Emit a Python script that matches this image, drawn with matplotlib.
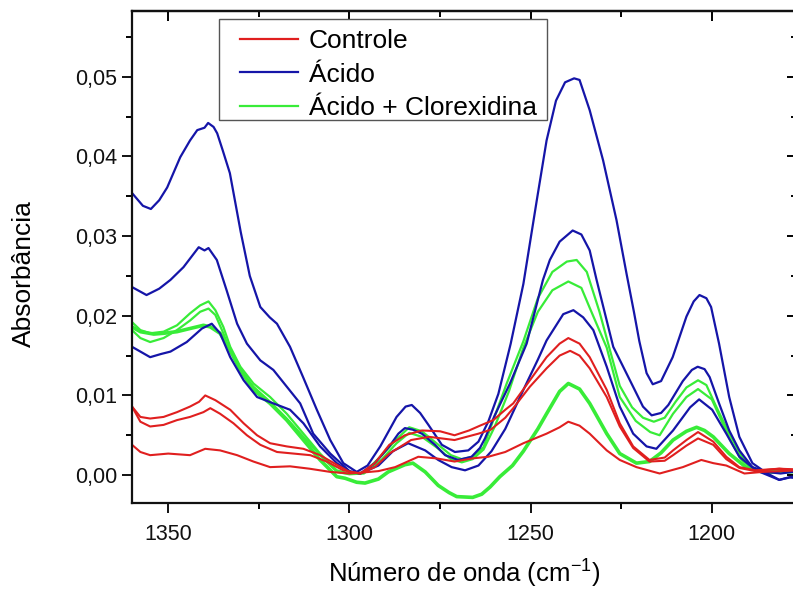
import numpy as np
import matplotlib
matplotlib.use("Agg")
import matplotlib.pyplot as plt
from matplotlib.ticker import MultipleLocator, FuncFormatter
from matplotlib.patches import Rectangle

plt.rcParams['font.family'] = ['Liberation Sans', 'DejaVu Sans']
plt.rcParams['mathtext.fontset'] = 'custom'
plt.rcParams['mathtext.rm'] = 'Liberation Sans'
plt.rcParams['mathtext.default'] = 'rm'

#Controle spectra (wavenumber cm-1, absorbance)
wn_controle_1 = [1360, 1357.7, 1355, 1351.3, 1347.6, 1344, 1341.5, 1339.8, 1337, 1332.9, 1329.2, 1325.5,
                 1321.9, 1317.3, 1312.7, 1308.1, 1303.5, 1300, 1297, 1293, 1289, 1284.7, 1280, 1275, 1271,
                 1267, 1264, 1260.3, 1257, 1254.8, 1250.2, 1245.6, 1242, 1239.6, 1236.5, 1233.7, 1229,
                 1225.4, 1221.7, 1217.2, 1213, 1210.7, 1207, 1203.8, 1199.6, 1196, 1192.4, 1188, 1181.4, 1176]
abs_controle_1 = [0.0086, 0.0073, 0.0071, 0.0073, 0.0079, 0.0086, 0.0092, 0.0100, 0.0094, 0.0082, 0.0065, 0.0050,
                  0.0040, 0.0036, 0.0033, 0.0025, 0.0013, 0.0004, 0.0002, 0.0015, 0.0038, 0.0050, 0.0056, 0.0055, 0.0050,
                  0.0056, 0.0062, 0.0069, 0.0082, 0.0090, 0.0119, 0.0148, 0.0165, 0.0172, 0.0165, 0.0148, 0.0107,
                  0.0065, 0.0036, 0.0019, 0.0022, 0.0031, 0.0044, 0.0054, 0.0042, 0.0023, 0.0010, 0.0006, 0.0008, 0.0006]

wn_controle_2 = [1360, 1357.7, 1355, 1351.3, 1347.6, 1344, 1340.3, 1338.4, 1335.7, 1332, 1328.3, 1324.6, 1320,
                 1315.4, 1310.8, 1306.3, 1301.7, 1297, 1293, 1289, 1283, 1278, 1271, 1264.4, 1261, 1257, 1254.8,
                 1250.2, 1245.6, 1242, 1239.1, 1236.5, 1233.7, 1229, 1225.4, 1221.7, 1217.2, 1213, 1210.7, 1207,
                 1203.8, 1199.6, 1196, 1192.4, 1188, 1181.4, 1176]
abs_controle_2 = [0.0086, 0.0067, 0.0061, 0.0063, 0.0069, 0.0073, 0.0079, 0.0084, 0.0077, 0.0065, 0.0050, 0.0038, 0.0029,
                  0.0027, 0.0025, 0.0017, 0.0006, 0.0002, 0.0010, 0.0027, 0.0044, 0.0048, 0.0044, 0.0052, 0.0057, 0.0072, 0.0084,
                  0.0111, 0.0134, 0.0150, 0.0156, 0.0150, 0.0134, 0.0098, 0.0061, 0.0034, 0.0017, 0.0018, 0.0025, 0.0037,
                  0.0046, 0.0038, 0.0020, 0.0009, 0.0005, 0.0008, 0.0007]

wn_controle_3 = [1360, 1357.7, 1355, 1350, 1344, 1339.8, 1335.7, 1331, 1326.5, 1321.9, 1316.4, 1311, 1305.3, 1300,
                 1297, 1292, 1287.4, 1281, 1276, 1271, 1266, 1261.7, 1257, 1252, 1245.6, 1242, 1239.6, 1236.5,
                 1233.7, 1229, 1225.4, 1220.8, 1214.4, 1208, 1202.9, 1199.6, 1196, 1191, 1186, 1181, 1176]
abs_controle_3 = [0.0038, 0.0029, 0.0025, 0.0027, 0.0025, 0.0033, 0.0031, 0.0025, 0.0017, 0.0010, 0.0011, 0.0008, 0.0004, 0.0002,
                  0.0003, 0.0005, 0.0010, 0.0023, 0.0021, 0.0017, 0.0021, 0.0023, 0.0029, 0.0040, 0.0052, 0.0060, 0.0067, 0.0062,
                  0.0052, 0.0031, 0.0019, 0.0010, 0.0002, 0.0010, 0.0019, 0.0015, 0.0012, 0.0002, 0.0004, 0.0005, 0.0006]

#Acido spectra
wn_acido_1 = [1360, 1357, 1354.8, 1352.5, 1350.3, 1346.7, 1344, 1342, 1340, 1339, 1337.5, 1336.5, 1335, 1333,
              1330, 1327.5, 1324.6, 1322, 1320, 1316.4, 1312.8, 1309, 1305.3, 1301.7, 1298, 1295, 1291.5, 1287,
              1284.5, 1282.8, 1280.5, 1278.2, 1274.5, 1270.9, 1267.2, 1264.4, 1261.7, 1258.9, 1255.5, 1252, 1248.3,
              1245.6, 1243, 1240.5, 1238, 1236.5, 1233.7, 1230, 1226.3, 1223.5, 1221.5, 1220, 1218, 1216.3, 1214,
              1210.8, 1207, 1205, 1203.4, 1201.5, 1200.2, 1198, 1195.2, 1192.4, 1188.8, 1185, 1181.4, 1178.5, 1176]
abs_acido_1 = [0.0354, 0.0338, 0.0334, 0.0345, 0.0361, 0.0399, 0.0420, 0.0433, 0.0436, 0.0442, 0.0437, 0.0429, 0.0408, 0.0379,
               0.0305, 0.0250, 0.0211, 0.0198, 0.0190, 0.0161, 0.0123, 0.0082, 0.0044, 0.0015, 0.0004, 0.0012, 0.0036, 0.0073,
               0.0086, 0.0088, 0.0078, 0.0063, 0.0038, 0.0029, 0.0031, 0.0042, 0.0067, 0.0102, 0.0165, 0.0240, 0.0345,
               0.0420, 0.0470, 0.0493, 0.0498, 0.0496, 0.0458, 0.0395, 0.0320, 0.0252, 0.0205, 0.0168, 0.0128, 0.0114, 0.0118,
               0.0148, 0.0199, 0.0218, 0.0226, 0.0222, 0.0211, 0.0165, 0.0098, 0.0048, 0.0015, 0.0003, -0.0006, -0.0003, -0.0004]

wn_acido_2 = [1360, 1356, 1352.5, 1349.4, 1345.8, 1341.6, 1340, 1338.9, 1336.6, 1333.9, 1331, 1328.3, 1324.6, 1321,
              1317.3, 1313.6, 1310, 1305.3, 1300, 1297, 1293, 1289, 1286.5, 1284.7, 1282.5, 1280, 1276.4, 1273.6,
              1270, 1266.3, 1264, 1262.6, 1259.9, 1255.7, 1251.1, 1246.6, 1244.7, 1242, 1238.4, 1236, 1233.7, 1231.8,
              1227.2, 1222.6, 1219, 1216.6, 1214, 1212, 1208, 1205.5, 1203.9, 1202, 1200.6, 1198, 1195.2, 1192.4,
              1188.8, 1185, 1181, 1176]
abs_acido_2 = [0.0236, 0.0226, 0.0234, 0.0245, 0.0261, 0.0286, 0.0282, 0.0285, 0.0270, 0.0232, 0.0190, 0.0165, 0.0144, 0.0132,
               0.0111, 0.0090, 0.0052, 0.0027, 0.0005, 0.0002, 0.0015, 0.0036, 0.0052, 0.0059, 0.0057, 0.0052, 0.0038, 0.0025,
               0.0019, 0.0023, 0.0034, 0.0046, 0.0075, 0.0115, 0.0165, 0.0245, 0.0270, 0.0293, 0.0307, 0.0302, 0.0282, 0.0245,
               0.0161, 0.0119, 0.0086, 0.0075, 0.0078, 0.0088, 0.0118, 0.0132, 0.0136, 0.0133, 0.0123, 0.0090, 0.0056, 0.0031,
               0.0010, 0.0004, 0.0002, 0.0005]

wn_acido_3 = [1360, 1355, 1352, 1349.4, 1344.9, 1340.7, 1338, 1335.7, 1332.9, 1329.2, 1325.5, 1321, 1316.4, 1312.7,
              1308.1, 1303.5, 1300, 1297, 1292, 1288, 1283.8, 1279.1, 1275.5, 1271.8, 1268.1, 1264.4, 1260.8, 1257,
              1252, 1248, 1245.6, 1241, 1238.2, 1235.5, 1232.7, 1229, 1225.4, 1221.7, 1218, 1215.3, 1210.7, 1206,
              1203.5, 1199.9, 1196, 1192.4, 1187.8, 1181.4, 1178, 1176]
abs_acido_3 = [0.0161, 0.0148, 0.0152, 0.0155, 0.0167, 0.0184, 0.0190, 0.0178, 0.0148, 0.0119, 0.0098, 0.0090, 0.0082, 0.0065,
               0.0036, 0.0015, 0.0004, 0.0002, 0.0012, 0.0030, 0.0040, 0.0031, 0.0019, 0.0010, 0.0006, 0.0012, 0.0030, 0.0058,
               0.0107, 0.0145, 0.0169, 0.0202, 0.0207, 0.0198, 0.0182, 0.0136, 0.0086, 0.0052, 0.0036, 0.0033, 0.0056, 0.0085,
               0.0095, 0.0082, 0.0052, 0.0023, 0.0006, -0.0006, -0.0002, -0.0004]

#Acido + Clorexidina spectra
wn_clx_1 = [1360, 1357.7, 1355, 1351.3, 1347.6, 1344, 1341.2, 1338.9, 1337, 1334.8, 1332.9, 1330.1, 1326.5, 1321.9,
            1317.3, 1312.7, 1308.1, 1303.5, 1300, 1296, 1291, 1287, 1283.5, 1280, 1276, 1272, 1269, 1266, 1263,
            1260.3, 1256.6, 1252, 1248, 1244, 1240, 1237.3, 1234.5, 1231, 1228, 1225.4, 1222, 1219, 1216, 1213,
            1210, 1207, 1203.8, 1201.5, 1199, 1195.5, 1192, 1189, 1185, 1180, 1176]
abs_clx_1 = [0.0192, 0.0182, 0.0178, 0.0180, 0.0188, 0.0203, 0.0213, 0.0218, 0.0207, 0.0186, 0.0161, 0.0136, 0.0115, 0.0098,
             0.0077, 0.0052, 0.0027, 0.0006, 0.0002, 0.0003, 0.0025, 0.0045, 0.0060, 0.0055, 0.0040, 0.0025, 0.0020, 0.0023, 0.0035,
             0.0069, 0.0115, 0.0168, 0.0222, 0.0255, 0.0268, 0.0270, 0.0255, 0.0205, 0.0155, 0.0112, 0.0085, 0.0072, 0.0067, 0.0072,
             0.0092, 0.0110, 0.0119, 0.0113, 0.0088, 0.0055, 0.0025, 0.0010, 0.0003, 0.0004, 0.0003]

wn_clx_2 = [1360, 1357.7, 1355, 1351.3, 1347.6, 1344, 1341.2, 1338.9, 1337, 1334.8, 1332.9, 1330.1, 1326.5, 1321.9,
            1317.3, 1312.7, 1308.1, 1303.5, 1300, 1296, 1291, 1287, 1283.5, 1280, 1276, 1272, 1269, 1266, 1263,
            1260, 1256, 1252, 1248, 1244, 1239.6, 1236, 1233.7, 1229, 1225.4, 1221, 1217, 1214.4, 1210.7, 1207,
            1203.8, 1200, 1198, 1195, 1192, 1189, 1185, 1176]
abs_clx_2 = [0.0182, 0.0172, 0.0167, 0.0172, 0.0182, 0.0194, 0.0205, 0.0209, 0.0201, 0.0178, 0.0155, 0.0132, 0.0111, 0.0092,
             0.0071, 0.0048, 0.0025, 0.0004, 0.0001, 0.0002, 0.0020, 0.0040, 0.0053, 0.0048, 0.0035, 0.0020, 0.0016, 0.0020, 0.0032,
             0.0060, 0.0105, 0.0160, 0.0205, 0.0232, 0.0243, 0.0235, 0.0210, 0.0160, 0.0098, 0.0068, 0.0054, 0.0050, 0.0077, 0.0098,
             0.0108, 0.0095, 0.0075, 0.0045, 0.0020, 0.0008, 0.0003, 0.0004]

wn_clx_3 = [1360, 1357.7, 1354, 1351.3, 1347.6, 1344, 1340.3, 1338.4, 1335.7, 1332.9, 1330.1, 1326.5, 1321.9, 1317.3,
            1312.7, 1308.1, 1303.5, 1301.2, 1298, 1295.7, 1292, 1289.3, 1284.7, 1282.5, 1279.1, 1275.5, 1272.5, 1270.4,
            1266, 1263.5, 1261.2, 1258.5, 1255, 1252, 1248, 1245.6, 1242, 1239.6, 1236.5, 1233.7, 1229, 1225.4,
            1220.8, 1217.2, 1214, 1210.7, 1207, 1204.2, 1202, 1199.6, 1195.2, 1190.6, 1186, 1181, 1176]
abs_clx_3 = [0.0186, 0.0180, 0.0177, 0.0178, 0.0180, 0.0184, 0.0188, 0.0186, 0.0178, 0.0157, 0.0132, 0.0107, 0.0090, 0.0069,
             0.0044, 0.0019, -0.0002, -0.0004, -0.0009, -0.0010, -0.0005, 0.0004, 0.0013, 0.0015, 0.0004, -0.0013, -0.0022, -0.0027,
             -0.0028, -0.0024, -0.0015, -0.0002, 0.0012, 0.0030, 0.0058, 0.0077, 0.0105, 0.0115, 0.0108, 0.0090, 0.0052, 0.0027,
             0.0015, 0.0017, 0.0028, 0.0044, 0.0055, 0.0060, 0.0056, 0.0048, 0.0027, 0.0010, 0.0004, 0.0006, 0.0005]

legend_labels = ['Controle', 'Ácido', 'Ácido + Clorexidina']

red = '#e01f1f'
blue = '#1515a8'
green = '#38ec38'

fig = plt.figure(figsize=(7.93, 5.90), dpi=100)
ax = fig.add_axes([0.1665, 0.1475, 0.8385, 0.8345])

#Green first, then blue, red on top
ax.plot(wn_clx_3, abs_clx_3, color=green, lw=2.6)
ax.plot(wn_clx_1, abs_clx_1, color=green, lw=1.6)
ax.plot(wn_clx_2, abs_clx_2, color=green, lw=1.6)
ax.plot(wn_acido_1, abs_acido_1, color=blue, lw=1.6)
ax.plot(wn_acido_2, abs_acido_2, color=blue, lw=1.6)
ax.plot(wn_acido_3, abs_acido_3, color=blue, lw=1.6)
ax.plot(wn_controle_1, abs_controle_1, color=red, lw=1.5)
ax.plot(wn_controle_2, abs_controle_2, color=red, lw=1.5)
ax.plot(wn_controle_3, abs_controle_3, color=red, lw=1.5)

#Legend: entries without frame, box drawn separately
h1, = ax.plot([], [], color=red, lw=1.6)
h2, = ax.plot([], [], color=blue, lw=1.6)
h3, = ax.plot([], [], color=green, lw=1.6)
leg = ax.legend([h1, h2, h3], legend_labels,
                loc='upper left', bbox_to_anchor=(0.1624, 0.962), borderaxespad=0,
                fontsize=19, frameon=False, handlelength=2.2,
                handletextpad=0.4, labelspacing=0.35, borderpad=0)
ax.add_patch(Rectangle((0.1308, 0.7777), 0.4932, 0.2051, transform=ax.transAxes,
                       fill=True, facecolor='white', edgecolor='#555555', lw=1.0, zorder=4))
leg.set_zorder(5)

ax.set_xlim(1360, 1176.5)
ax.set_ylim(-0.0035, 0.0583)

ax.xaxis.set_major_locator(MultipleLocator(50))
ax.xaxis.set_minor_locator(MultipleLocator(25))
ax.yaxis.set_major_locator(MultipleLocator(0.01))
ax.yaxis.set_minor_locator(MultipleLocator(0.005))
ax.yaxis.set_major_formatter(FuncFormatter(lambda v, p: f"{v:.2f}".replace('.', ',')))

ax.tick_params(axis='both', which='major', direction='out', length=7, width=1.4, labelsize=15.5, colors='#111111')
ax.tick_params(axis='both', which='minor', direction='out', length=4, width=1.4)
ax.tick_params(axis='x', pad=8)

#Top and right ticks point inward
top = ax.secondary_xaxis('top')
top.xaxis.set_major_locator(MultipleLocator(50))
top.xaxis.set_minor_locator(MultipleLocator(25))
top.tick_params(axis='x', which='major', direction='in', length=7, width=1.4, labeltop=False)
top.tick_params(axis='x', which='minor', direction='in', length=4, width=1.4)
right = ax.secondary_yaxis('right')
right.yaxis.set_major_locator(MultipleLocator(0.01))
right.yaxis.set_minor_locator(MultipleLocator(0.005))
right.tick_params(axis='y', which='major', direction='in', length=7, width=1.4, labelright=False)
right.tick_params(axis='y', which='minor', direction='in', length=4, width=1.4)

for s in ax.spines.values():
    s.set_linewidth(1.6)
    s.set_color('#111111')
top.spines['top'].set_linewidth(1.6)
right.spines['right'].set_linewidth(1.6)

ax.set_xlabel('Número de onda (cm$^{-1}$)', fontsize=18.5)
ax.set_ylabel('Absorbância', fontsize=19)
ax.xaxis.set_label_coords(0.5, -0.112)
ax.yaxis.set_label_coords(-0.162, 0.465)
ax.yaxis.label.set_verticalalignment('center')

fig.savefig('out.png', dpi=100)
